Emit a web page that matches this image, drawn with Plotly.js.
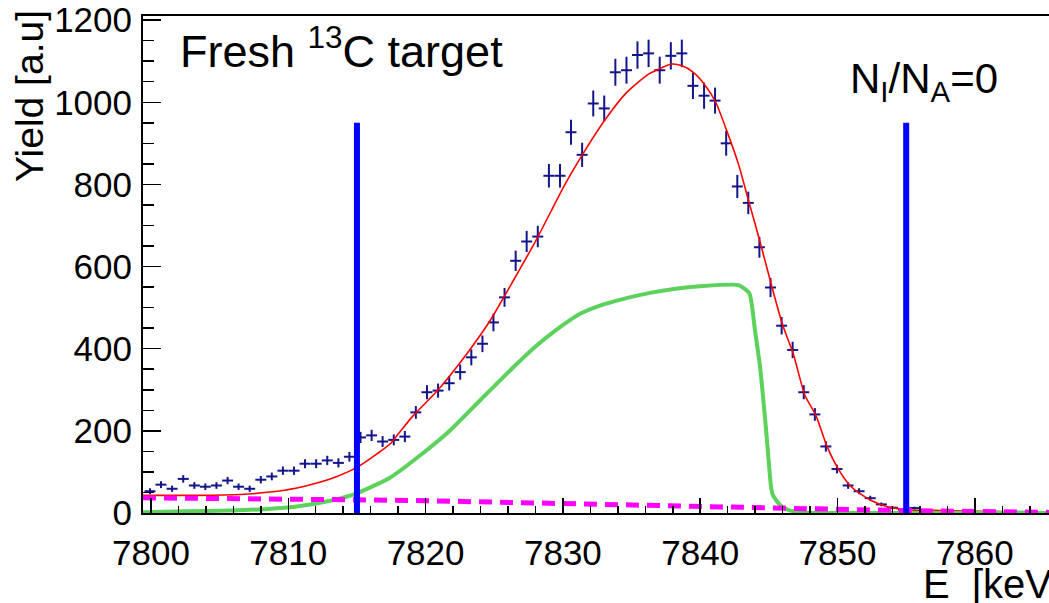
<!DOCTYPE html>
<html>
<head>
<meta charset="utf-8">
<script src="https://cdn.plot.ly/plotly-3.0.1.min.js"></script>
<style>html,body{margin:0;padding:0;background:#fff;}#chart{width:1049px;height:603px;}</style>
</head>
<body>
<div id="chart"></div>
<script>
// ---- data ----
const dataE = [7799.93,7800.73,7801.54,7802.35,7803.16,7803.96,7804.77,7805.58,7806.38,7807.19,
  7808.00,7808.80,7809.61,7810.42,7811.22,7812.03,7812.84,7813.65,7814.45,7815.26,
  7816.07,7816.87,7817.68,7818.49,7819.29,7820.10,7820.91,7821.72,7822.52,7823.33,
  7824.14,7824.94,7825.75,7826.56,7827.36,7828.17,7828.98,7829.79,7830.59,7831.40,
  7832.21,7833.01,7833.82,7834.63,7835.43,7836.24,7837.05,7837.86,7838.66,7839.47,
  7840.28,7841.08,7841.89,7842.70,7843.50,7844.31,7845.12,7845.93,7846.73,7847.54,
  7848.35,7849.15,7849.96,7850.77,7851.57,7852.38,7853.19,7853.99,7854.80,7855.61,
  7856.42,7857.22,7858.03,7858.84,7859.64,7860.45,7861.26,7862.06,7862.87,7863.68,
  7864.49,7865.29];
const dataYield = [53,69,59,83,67,64,67,79,64,59,
  81,89,103,103,120,120,128,122,137,184,
  189,174,178,186,245,294,298,316,343,379,
  412,464,525,614,661,673,821,821,927,872,
  997,985,1073,1078,1115,1119,1078,1113,1119,1040,
  1016,1004,900,795,755,647,549,456,397,294,
  240,162,107,67,53,36,21,13,8,12,
  5,4,3,3,2,2,3,2,3,3,
  2,1];

const fitE = [7799.42,7803.35,7806.48,7808.67,7810.63,7812.09,7813.55,7815.00,7816.46,7817.41,
  7818.14,7819.10,7820.92,7822.99,7824.69,7826.39,7828.09,7830.15,7831.41,7833.02,
  7834.65,7836.27,7837.92,7838.67,7839.50,7840.30,7841.13,7841.93,7842.78,7843.58,
  7844.36,7845.16,7845.98,7846.78,7847.63,7848.43,7849.21,7850.06,7850.91,7851.64,
  7852.49,7853.58,7855.04,7857.47,7860.38,7865.40];
const fitYield = [43,43,45,51,61,73,89,111,144,168,
  198,237,300,387,468,566,667,800,872,955,
  1024,1069,1093,1089,1073,1044,1000,931,850,753,
  660,558,460,387,286,237,164,107,67,47,
  30,16,8,6,4,2];

const compE = [7799.42,7802.50,7805.75,7808.50,7810.63,7813.04,7815.00,7817.41,7819.59,7821.78,
  7823.96,7826.39,7828.09,7829.28,7831.25,7832.70,7834.50,7836.34,7838.20,7839.99,
  7842.78,7843.58,7843.99,7844.36,7844.60,7844.83,7845.05,7845.16,7845.30,7845.74,
  7846.18,7847.05,7848.72,7865.40];
const compYield = [2,4,6,10,16,30,48,86,140,201,
  274,355,408,440,485,505,522,536,546,552,
  555,535,444,355,274,190,100,62,43,22,
  11,2,0,0];

const bkgE = [7799.42,7805,7810,7815,7820,7825,7830,7835,7840,7845,7850,7855,7860,7865.40];
const bkgYield = [37,36,34,32,30,27,24,20,17,13,9,6,3,1.5];

const cutE = [7815, 7855];
const cutTop = 950;

const yTicks = [0, 200, 400, 600, 800, 1000, 1200];
const xTicks = [7800, 7810, 7820, 7830, 7840, 7850, 7860];

// ---- traces ----
const traces = [];
traces.push({
  x: dataE, y: dataYield, type: 'scatter', mode: 'markers',
  marker: {size: 1, color: '#14148c'},
  error_y: {type: 'sqrt', visible: true, color: '#14148c', thickness: 2, width: 0},
  error_x: {type: 'constant', value: 0.4, visible: true, color: '#14148c', thickness: 2, width: 0},
  hoverinfo: 'skip', showlegend: false
});
traces.push({x: fitE, y: fitYield, type: 'scatter', mode: 'lines',
  line: {color: '#ff0000', width: 1.6, shape: 'spline', smoothing: 0.6}, showlegend: false});
traces.push({x: compE, y: compYield, type: 'scatter', mode: 'lines',
  line: {color: '#5cd25c', width: 4, shape: 'spline', smoothing: 0.5}, showlegend: false});
traces.push({x: bkgE, y: bkgYield, type: 'scatter', mode: 'lines',
  line: {color: '#ff00ff', width: 5, dash: '13px,8px'}, showlegend: false});
cutE.forEach(function (e) {
  traces.push({x: [e, e], y: [0, cutTop], type: 'scatter', mode: 'lines',
    line: {color: '#0000ff', width: 6}, showlegend: false});
});

// ---- layout ----
const FONT = 'Liberation Sans, Arial, Helvetica, sans-serif';
const L = 143, R = 0, T = 16, B = 90, W = 1049, H = 603;
const pw = W - L - R, ph = H - T - B;
function px2x(p) { return (p - L) / pw; }
function py2y(p) { return (H - B - p) / ph; }

const layout = {
  width: W, height: H,
  margin: {l: L, r: R, t: T, b: B, pad: 0},
  paper_bgcolor: '#ffffff', plot_bgcolor: '#ffffff',
  font: {family: FONT, color: '#000000'},
  xaxis: {
    range: [7799.42, 7865.4], showgrid: false, zeroline: false,
    showline: true, linecolor: '#000000', linewidth: 2, mirror: true,
    ticks: 'inside', ticklen: 15, tickwidth: 1.5, tickcolor: '#000000',
    tickmode: 'array', tickvals: xTicks, ticktext: xTicks.map(String),
    minor: {ticks: 'inside', ticklen: 7, dtick: 2, tick0: 7800, tickwidth: 1.5, tickcolor: '#000000', showgrid: false},
    tickfont: {family: FONT, size: 35, color: '#000000'},
    ticklabelstandoff: 8
  },
  yaxis: {
    range: [0, 1210], showgrid: false, zeroline: false,
    showline: true, linecolor: '#000000', linewidth: 2, mirror: false,
    ticks: 'inside', ticklen: 18, tickwidth: 1.5, tickcolor: '#000000',
    tickmode: 'array', tickvals: yTicks, ticktext: yTicks.map(String),
    minor: {ticks: 'inside', ticklen: 11, dtick: 50, tick0: 0, tickwidth: 1.5, tickcolor: '#000000', showgrid: false},
    tickfont: {family: FONT, size: 35, color: '#000000'},
    ticklabelstandoff: 2
  },
  annotations: [
    {text: 'Fresh <sup>13</sup>C target', xref: 'paper', yref: 'paper',
      x: px2x(178), y: py2y(48), xanchor: 'left', yanchor: 'middle', showarrow: false,
      font: {family: FONT, size: 45, color: '#000000'}},
    {text: 'N<sub>I</sub>/N<sub>A</sub>=0', xref: 'paper', yref: 'paper',
      x: px2x(848), y: py2y(82), xanchor: 'left', yanchor: 'middle', showarrow: false,
      font: {family: FONT, size: 42, color: '#000000'}},
    {text: 'Yield [a.u]', xref: 'paper', yref: 'paper', textangle: -90,
      x: px2x(30), y: py2y(8), xanchor: 'center', yanchor: 'top', showarrow: false,
      font: {family: FONT, size: 39, color: '#000000'}},
    {text: 'E\u00a0\u00a0[keV]', xref: 'paper', yref: 'paper',
      x: px2x(921), y: py2y(584), xanchor: 'left', yanchor: 'middle', showarrow: false,
      font: {family: FONT, size: 40, color: '#000000'}}
  ]
};

Plotly.newPlot('chart', traces, layout, {displayModeBar: false, staticPlot: true});
</script>
</body>
</html>
